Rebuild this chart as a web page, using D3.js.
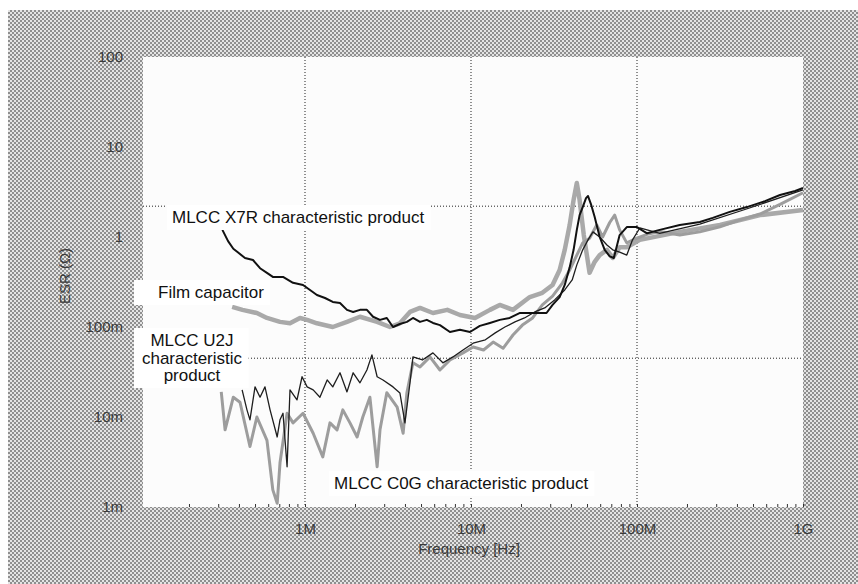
<!DOCTYPE html>
<meta charset='utf-8'>
<style>
  body { margin: 0; background: #fff; font-family: 'Liberation Sans', Arial, Helvetica, sans-serif; }
  .tickLabel text { fill: #3a3a3a; font-size: 15px; }
  .curveLabel { fill: #111; font-size: 17px; }
  .axisTitle { fill: #3a3a3a; font-size: 15px; }
</style>
<body>
<div id='viz'></div>
<script src='https://d3js.org/d3.v7.min.js'></script>
<script>

// ESR vs frequency (frequency in MHz, ESR in ohm)
var x7rFreq = [0.318,0.344,0.37,0.392,0.435,0.486,0.536,0.59,0.64,0.737,0.847,0.973,1.072,1.18,1.32,1.47,1.625,1.79,1.95,2.144,2.36,2.57,2.83,3.11,3.39,3.73,4.11,4.47,4.93,5.42,5.9,6.5,7.47,8.58,9.86,11.3,13,14.9,17.1,19.6,22.6,25.9,28.5,31,34.2,36.7,39.3,41.5,43.4,45.1,47.1,49.3,50.7,53,55.6,59.6,63.9,68.5,72.5,78.6,86.8,100,115,137,181,239,286,362,459,590,727,897,1000];
var x7rEsr  = [1.2,0.9,0.74,0.68,0.585,0.555,0.45,0.4,0.36,0.36,0.31,0.293,0.258,0.227,0.21,0.19,0.185,0.155,0.147,0.155,0.155,0.13,0.12,0.126,0.1,0.108,0.114,0.126,0.114,0.12,0.111,0.105,0.088,0.093,0.088,0.103,0.111,0.12,0.126,0.143,0.143,0.143,0.143,0.176,0.215,0.293,0.46,0.72,1.2,1.75,2.15,2.7,2.85,2.27,1.67,1.0,0.72,0.61,0.585,1.05,1.29,1.29,1.1,1.2,1.36,1.47,1.63,1.9,2.15,2.5,2.93,3.24,3.5];

var filmFreq = [0.364,0.42,0.513,0.59,0.707,0.812,0.933,1.03,1.18,1.47,1.79,2.144,2.72,3.25,3.73,4.29,4.93,5.9,7.2,8.58,10.57,13,14.9,17.9,22.6,26.9,31,34.2,36.7,39.3,41.5,43.4,45.1,47.8,51.8,55.6,59.6,65.9,71.4,78.6,86.8,104,137,181,316,551,1000];
var filmEsr  = [0.167,0.155,0.143,0.126,0.114,0.11,0.126,0.12,0.11,0.1,0.114,0.13,0.114,0.1,0.11,0.147,0.163,0.143,0.155,0.136,0.126,0.155,0.176,0.155,0.215,0.24,0.293,0.43,0.72,1.36,2.58,3.98,2.58,1.05,0.4,0.53,0.63,0.72,0.585,0.77,0.77,0.93,1.03,1.14,1.36,1.75,2.0];

var u2jFreq = [0.418,0.447,0.466,0.5,0.536,0.574,0.616,0.68,0.707,0.737,0.78,0.812,0.895,0.96,1.03,1.12,1.23,1.36,1.47,1.625,1.79,1.95,2.144,2.36,2.53,2.72,2.95,3.39,3.73,4.0,4.29,4.47,5.1,5.9,6.77,7.78,8.95,10.3,12.2,14,16,18.4,21,24.2,27.8,31.9,36.7,40.7,43.4,47.1,50.7,54.3,59.6,65.9,71.4,78.6,86.8,94,104,137,239,476,1000];
var u2jEsr  = [0.02,0.012,0.0093,0.0216,0.0166,0.0216,0.012,0.006,0.0093,0.011,0.0028,0.02,0.0155,0.028,0.0216,0.02,0.0166,0.0258,0.0216,0.031,0.019,0.031,0.024,0.0333,0.049,0.028,0.0258,0.0216,0.0185,0.0086,0.024,0.0465,0.043,0.0516,0.04,0.0465,0.0555,0.066,0.072,0.086,0.1,0.114,0.126,0.147,0.163,0.2,0.258,0.333,0.49,0.72,0.93,1.14,1.0,0.815,0.72,0.68,0.63,0.93,1.26,1.1,1.39,2.1,3.33];

var c0gFreq = [0.313,0.33,0.37,0.406,0.466,0.513,0.59,0.64,0.68,0.707,0.78,0.847,0.973,1.12,1.28,1.414,1.56,1.69,1.866,2.06,2.23,2.46,2.72,2.83,3.11,3.59,3.9,4.11,4.47,4.93,5.66,6.5,7.47,8.95,10.3,11.9,13.6,15.6,17.9,20.4,23.5,26.9,31,35.6,39.3,43.4,47.1,51.8,57.2,62.1,68.5,73.4,78.6,86.8,97,115,137,181,239,316,417,551,727,1000];
var c0gEsr  = [0.019,0.0072,0.0166,0.0146,0.0047,0.01,0.0055,0.00155,0.0011,0.0031,0.011,0.0086,0.011,0.0066,0.0036,0.0086,0.0072,0.012,0.0086,0.006,0.01,0.0166,0.0028,0.0072,0.0186,0.0129,0.0066,0.0186,0.04,0.036,0.0465,0.0333,0.043,0.0516,0.06,0.0555,0.068,0.058,0.0815,0.105,0.126,0.176,0.22,0.31,0.43,0.63,0.86,0.97,1.36,1.0,1.45,1.75,1.2,0.86,0.95,1.07,1.15,1.05,1.14,1.3,1.55,1.8,2.3,3.1];

// axis ticks
var yTicks  = [0.001, 0.01, 0.1, 1, 10, 100];
var yLabels = ['1m', '10m', '100m', '1', '10', '100'];
var xTicks  = [1, 10, 100, 1000];
var xLabels = ['1M', '10M', '100M', '1G'];
var hGrid   = [2.2, 0.045];   // horizontal dotted lines as printed

var W = 858, H = 584;
var plot = {left: 143, right: 803, top: 57, bottom: 507};

var xScale = d3.scaleLog().domain([0.1, 1000]).range([139, 803]);
var yScale = d3.scaleLog().domain([0.001, 100]).range([507, 57]);

var svg = d3.select('#viz').append('svg')
    .attr('width', W)
    .attr('height', H);

// halftone background
var defs = svg.append('defs');
var pat = defs.append('pattern')
    .attr('id', 'halftone')
    .attr('patternUnits', 'userSpaceOnUse')
    .attr('width', 4).attr('height', 4);
pat.append('rect').attr('width', 4).attr('height', 4).attr('fill', '#e4e4e4');
pat.append('rect').attr('x', 0).attr('y', 0).attr('width', 2).attr('height', 2).attr('fill', '#8f8f8f');
pat.append('rect').attr('x', 2).attr('y', 2).attr('width', 2).attr('height', 2).attr('fill', '#8f8f8f');

svg.append('rect')
    .attr('x', 8).attr('y', 10)
    .attr('width', W - 8).attr('height', H - 10)
    .attr('fill', 'url(#halftone)');

svg.append('rect')
    .attr('x', plot.left).attr('y', plot.top)
    .attr('width', plot.right - plot.left)
    .attr('height', plot.bottom - plot.top)
    .attr('fill', '#fcfcfc');

// grid
var grid = svg.append('g').attr('stroke', '#222').attr('stroke-width', 1)
    .attr('stroke-dasharray', '1,2');
grid.selectAll('.vg').data(xTicks.slice(0, 3)).enter().append('line')
    .attr('x1', function(d) { return xScale(d); })
    .attr('x2', function(d) { return xScale(d); })
    .attr('y1', plot.top).attr('y2', plot.bottom);
grid.selectAll('.hg').data(hGrid).enter().append('line')
    .attr('x1', plot.left).attr('x2', plot.right)
    .attr('y1', function(d) { return yScale(d); })
    .attr('y2', function(d) { return yScale(d); });

// minor ticks along the bottom edge
var minor = [];
[0.1, 1, 10, 100].forEach(function(dec) {
  for (var k = 2; k <= 9; k++) minor.push(dec * k);
});
svg.append('g')
    .attr('transform', 'translate(0,' + plot.bottom + ')')
    .call(d3.axisTop(xScale).tickValues(minor.concat(xTicks)).tickSize(3).tickFormat(''))
    .call(function(g) { g.select('.domain').remove(); })
    .selectAll('line').attr('stroke', '#333');

// curves
var line = d3.line()
    .x(function(d) { return xScale(d[0]); })
    .y(function(d) { return yScale(d[1]); });

function series(f, v) { return f.map(function(d, i) { return [d, v[i]]; }); }

var curves = [
  {data: series(filmFreq, filmEsr), color: '#a9a9a9', width: 4.5},
  {data: series(c0gFreq, c0gEsr),   color: '#9d9d9d', width: 3},
  {data: series(u2jFreq, u2jEsr),   color: '#1e1e1e', width: 1.3},
  {data: series(x7rFreq, x7rEsr),   color: '#111',    width: 2}
];
svg.append('g').selectAll('path').data(curves).enter().append('path')
    .attr('d', function(d) { return line(d.data); })
    .attr('fill', 'none')
    .attr('stroke', function(d) { return d.color; })
    .attr('stroke-width', function(d) { return d.width; })
    .attr('stroke-linejoin', 'round');

// axes labels
var yAxis = svg.append('g')
    .attr('class', 'tickLabel')
    .attr('transform', 'translate(' + plot.left + ',0)')
    .call(d3.axisLeft(yScale).tickValues(yTicks).tickSize(0).tickPadding(20)
      .tickFormat(function(d, i) { return yLabels[i]; }));
yAxis.select('.domain').remove();
yAxis.selectAll('text').attr('font-family', null).attr('font-size', null);

var xAxis = svg.append('g')
    .attr('class', 'tickLabel')
    .attr('transform', 'translate(0,' + plot.bottom + ')')
    .call(d3.axisBottom(xScale).tickValues(xTicks).tickSize(0).tickPadding(16)
      .tickFormat(function(d, i) { return xLabels[i]; }));
xAxis.select('.domain').remove();
xAxis.selectAll('text').attr('font-family', null).attr('font-size', null);

svg.append('text')
    .attr('class', 'axisTitle')
    .attr('text-anchor', 'middle')
    .attr('x', 469).attr('y', 554)
    .text('Frequency [Hz]');

svg.append('text')
    .attr('class', 'axisTitle')
    .attr('text-anchor', 'middle')
    .attr('transform', 'translate(70,276) rotate(-90)')
    .text('ESR (Ω)');

// curve labels on white boxes
var labels = [
  {lines: ['MLCC X7R characteristic product'], x: 172, y: 223, anchor: 'start', boxLeft: null},
  {lines: ['Film capacitor'], x: 158, y: 298, anchor: 'start', boxLeft: 134},
  {lines: ['MLCC U2J', 'characteristic', 'product'], x: 192, y: 346, anchor: 'middle', boxLeft: 134},
  {lines: ['MLCC C0G characteristic product'], x: 334, y: 489, anchor: 'start', boxLeft: null}
];
labels.forEach(function(l) {
  var g = svg.append('g');
  var box = g.append('rect').attr('fill', '#fff');
  var t = g.append('text')
      .attr('class', 'curveLabel')
      .attr('text-anchor', l.anchor);
  l.lines.forEach(function(s, i) {
    t.append('tspan').attr('x', l.x).attr('y', l.y + i * 17.5).text(s);
  });
  var bb = t.node().getBBox();
  var left = l.boxLeft !== null ? l.boxLeft : bb.x - 5;
  box.attr('x', left).attr('y', bb.y - 3)
     .attr('width', bb.x + bb.width + 6 - left)
     .attr('height', bb.height + 6);
});

</script>
</body>
